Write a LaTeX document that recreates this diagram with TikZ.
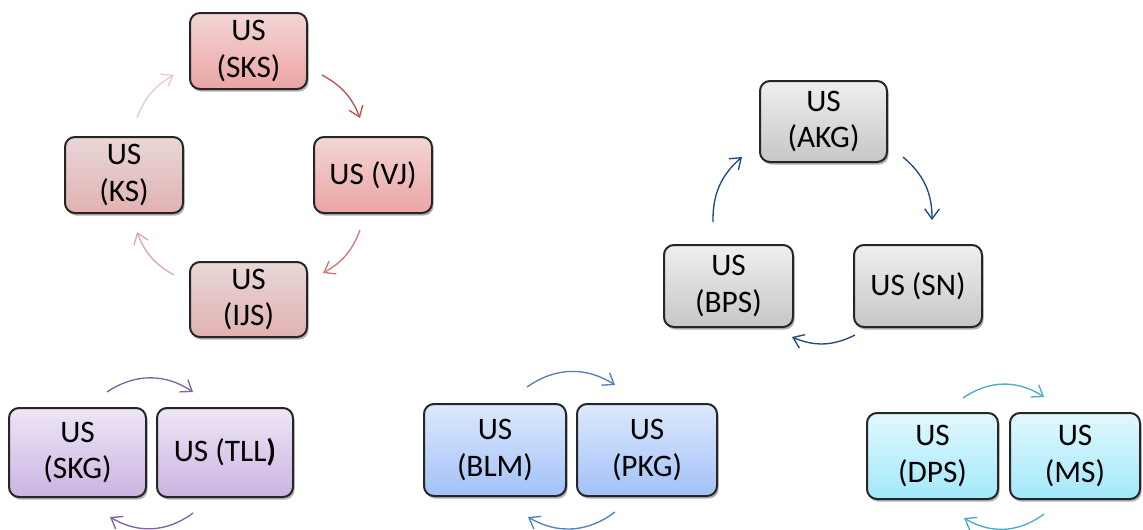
\documentclass[tikz,border=0pt]{standalone}
\usepackage{fontspec}
\setmainfont{Carlito}
\usetikzlibrary{arrows.meta,shadows}
\definecolor{redA}{HTML}{F3D6D6}\definecolor{redB}{HTML}{EBA4A4}
\definecolor{redC}{HTML}{E9D7D7}\definecolor{redD}{HTML}{E1B2B2}
\definecolor{purA}{HTML}{EEE6F6}\definecolor{purB}{HTML}{C9B4E0}
\definecolor{bluA}{HTML}{DDE9FD}\definecolor{bluB}{HTML}{A2C1F8}
\definecolor{cyaA}{HTML}{E2F8FD}\definecolor{cyaB}{HTML}{A2E8FA}
\definecolor{graA}{HTML}{EFEFEF}\definecolor{graB}{HTML}{C6C6C6}
\definecolor{arR1}{HTML}{C0504D}\definecolor{arR2}{HTML}{CF7A78}
\definecolor{arR3}{HTML}{DFA8A8}\definecolor{arR4}{HTML}{EDCACA}
\definecolor{arPu}{HTML}{8064A2}\definecolor{arBl}{HTML}{4F81BD}
\definecolor{arCy}{HTML}{4BACC6}\definecolor{arGr}{HTML}{1F497D}
\begin{document}
\begin{tikzpicture}[x=0.75pt,y=-0.75pt,
  box/.style={draw=black!85, line width=1.5pt, rounded corners=7.5pt, inner sep=0pt,
    align=center, font=\fontsize{23.5}{27.5}\selectfont,
    drop shadow={shadow xshift=1.2pt, shadow yshift=-2pt, opacity=0.3, fill=black}},
  sz/.style 2 args={minimum width=#1*0.75pt, minimum height=#2*0.75pt},
  grad/.style 2 args={top color=#1, bottom color=#2},
  conn/.style={line width=1pt, -{Straight Barb[length=7.5pt,width=11pt]}, bend left=#1},
  conn/.default=25]
\useasboundingbox (0,0) rectangle (1143,529);
\fill[white] (0,0) rectangle (1143,529);
\clip (0,0) rectangle (1143,529);

% red cycle
\node[box, sz={117}{76}, grad={redA}{redB}] (sks) at (248.5,51) {US\\(SKS)};
\node[box, sz={118}{76}, grad={redA}{redB}] (vj) at (373,175) {US (VJ)};
\node[box, sz={118}{76}, grad={redC}{redD}] (ks) at (124,175) {US\\(KS)};
\node[box, sz={117}{75}, grad={redC}{redD}] (ijs) at (248.5,299.5) {US\\(IJS)};

% purple pair
\node[box, sz={137}{89}, grad={purA}{purB}] (skg) at (77.5,452.5) {US\\(SKG)};
\node[box, sz={136}{89}, grad={purA}{purB}] (tll) at (225,452.5) {US (TLL\textbf{)}};

% blue pair
\node[box, sz={142}{92}, grad={bluA}{bluB}] (blm) at (495,450) {US\\(BLM)};
\node[box, sz={140}{92}, grad={bluA}{bluB}] (pkg) at (647,450) {US\\(PKG)};

% cyan pair
\node[box, sz={131}{86}, grad={cyaA}{cyaB}] (dps) at (932.5,456) {US\\(DPS)};
\node[box, sz={130}{86}, grad={cyaA}{cyaB}] (ms) at (1075,456) {US\\(MS)};

% gray cycle
\node[box, sz={127}{81}, grad={graA}{graB}] (akg) at (823.5,121.5) {US\\(AKG)};
\node[box, sz={129}{82}, grad={graA}{graB}] (bps) at (728.5,286) {US\\(BPS)};
\node[box, sz={128}{82}, grad={graA}{graB}] (sn) at (918,286) {US (SN)};

% connector end points
\coordinate (ks-o) at (137,118);   \coordinate (sks-i) at (174,75);
\coordinate (sks-o) at (322,75);   \coordinate (vj-i) at (360,118);
\coordinate (vj-o) at (360,230);   \coordinate (ijs-i) at (323,273);
\coordinate (ijs-o) at (174,275);  \coordinate (ks-i) at (137,232);

\coordinate (skg-o) at (107,392);  \coordinate (tll-i) at (193,392);
\coordinate (tll-o) at (193,513);  \coordinate (skg-i) at (110,517);

\coordinate (blm-o) at (527,387);  \coordinate (pkg-i) at (615,385);
\coordinate (pkg-o) at (615,512);  \coordinate (blm-i) at (528,517);

\coordinate (dps-o) at (963,398);  \coordinate (ms-i) at (1044,397);
\coordinate (ms-o) at (1044,514);  \coordinate (dps-i) at (964,518);

\coordinate (bps-o) at (713,222);  \coordinate (akg-i) at (742,157);
\coordinate (akg-o) at (903,157);  \coordinate (sn-i) at (932,220);
\coordinate (sn-o) at (855,335);   \coordinate (bps-i) at (792,337);

% red arrows
\draw[conn=20, arR4] (ks-o) to (sks-i);
\draw[conn=20, arR1] (sks-o) to (vj-i);
\draw[conn=20, arR2] (vj-o) to (ijs-i);
\draw[conn=20, arR3] (ijs-o) to (ks-i);

% pair arrows
\draw[conn=34, arPu] (skg-o) to (tll-i);
\draw[conn=34, arPu] (tll-o) to (skg-i);
\draw[conn=34, arBl] (blm-o) to (pkg-i);
\draw[conn=34, arBl] (pkg-o) to (blm-i);
\draw[conn=34, arCy] (dps-o) to (ms-i);
\draw[conn=34, arCy] (ms-o) to (dps-i);

% gray cycle arrows
\draw[conn=25, arGr] (bps-o) to (akg-i);
\draw[conn=25, arGr] (akg-o) to (sn-i);
\draw[conn=25, arGr] (sn-o) to (bps-i);
\end{tikzpicture}
\end{document}
